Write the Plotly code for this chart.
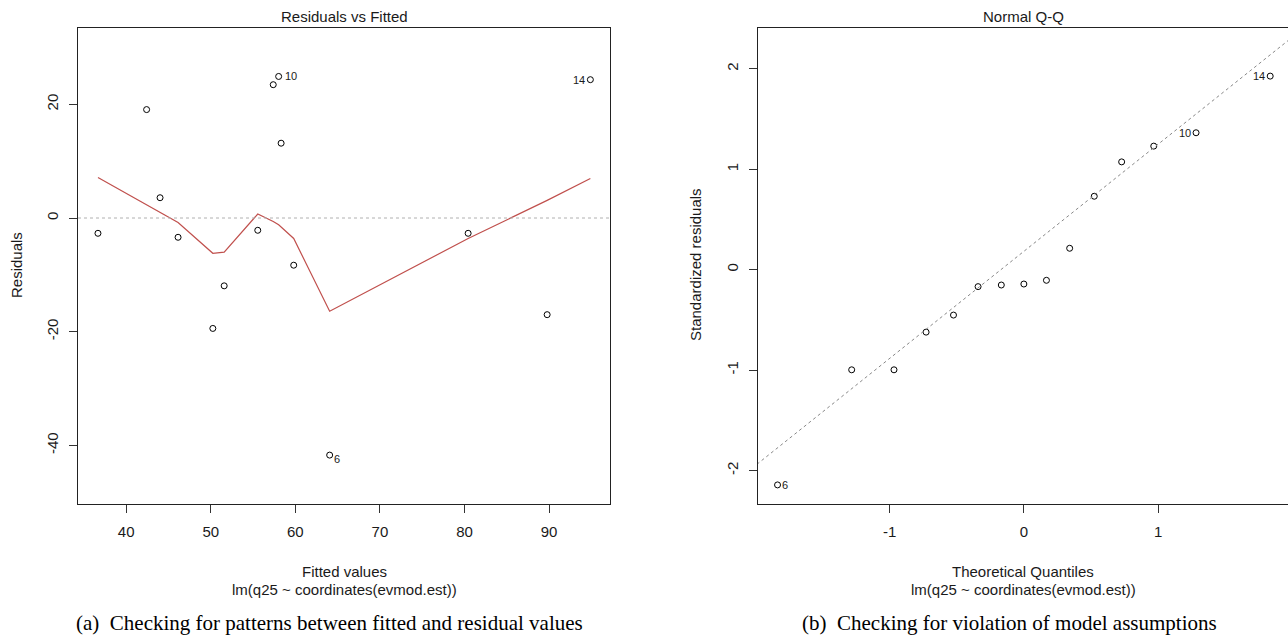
import numpy as np
import plotly.graph_objects as go

# ---------------- data ----------------
fitted = [36.67, 42.42, 44.01, 46.14, 50.25, 51.59, 55.56, 57.39, 58.03, 58.32,
          59.81, 64.06, 80.43, 89.77, 94.88]
residuals = [-2.69, 19.07, 3.57, -3.39, -19.42, -11.93, -2.16, 23.45, 24.90, 13.16,
             -8.30, -41.70, -2.69, -17.00, 24.33]
obs_id = [None, None, None, None, None, None, None, None, "10", None,
          None, "6", None, None, "14"]
smooth_fit = [7.13, 2.40, 1.00, -0.80, -6.20, -6.00, 0.70, -0.60, -1.20, -1.60,
              -3.60, -16.40, -3.60, 3.10, 6.96]

theoretical_q = [-1.834, -1.282, -0.967, -0.728, -0.524, -0.341, -0.168, 0.0,
                 0.168, 0.341, 0.524, 0.728, 0.967, 1.282, 1.834]
std_resid = [-2.143, -0.997, -0.997, -0.622, -0.452, -0.169, -0.153, -0.143,
             -0.106, 0.213, 0.731, 1.073, 1.230, 1.363, 1.927]
qq_id = ["6", None, None, None, None, None, None, None,
         None, None, None, None, None, "10", "14"]

xticks_left = [40, 50, 60, 70, 80, 90]
yticks_left = [-40, -20, 0, 20]
xticks_right = [-1, 0, 1]
yticks_right = [-2, -1, 0, 1, 2]

# ---------------- layout geometry ----------------
W, H = 1288, 637
def px(x):
    return x / W
def py(y):
    return 1 - y / H

FONT = "Liberation Sans, Arial, sans-serif"
SERIF = "Liberation Serif, Times New Roman, serif"
TXT = "#1a1a1a"

def labels(vals):
    return [str(v) for v in vals]  # ASCII hyphen minus, as in R

fig = go.Figure()

# left panel: residuals vs fitted
fig.add_trace(go.Scatter(
    x=fitted, y=residuals, mode="markers",
    marker=dict(symbol="circle-open", size=6, color="black", line=dict(width=1)),
    xaxis="x", yaxis="y", showlegend=False, hoverinfo="skip"))
order = np.argsort(fitted)
fig.add_trace(go.Scatter(
    x=np.array(fitted)[order], y=np.array(smooth_fit)[order], mode="lines",
    line=dict(color="#C0504D", width=1.2),
    xaxis="x", yaxis="y", showlegend=False, hoverinfo="skip"))

# right panel: normal Q-Q
fig.add_trace(go.Scatter(
    x=theoretical_q, y=std_resid, mode="markers",
    marker=dict(symbol="circle-open", size=6, color="black", line=dict(width=1)),
    xaxis="x2", yaxis="y2", showlegend=False, hoverinfo="skip"))

# qqline through the quartiles (R qqline)
yq = np.quantile(np.array(std_resid), [0.25, 0.75])
zq = np.array([-0.6744898, 0.6744898])
slope = (yq[1] - yq[0]) / (zq[1] - zq[0])
intercept = yq[0] - slope * zq[0]
xl = np.array([-3.0, 3.0])
fig.add_trace(go.Scatter(
    x=xl, y=intercept + slope * xl, mode="lines",
    line=dict(color="#888888", width=1, dash="dot"),
    xaxis="x2", yaxis="y2", showlegend=False, hoverinfo="skip"))

# zero reference line on the left panel
fig.add_shape(type="line", xref="x domain", yref="y", x0=0, x1=1, y0=0, y1=0,
              line=dict(color="#b0b0b0", width=1, dash="dot"))

axis_common = dict(showgrid=False, zeroline=False, ticks="outside", ticklen=8,
                   tickwidth=1, tickcolor="#333333", linecolor="#222222",
                   linewidth=1, showline=True,
                   tickfont=dict(family=FONT, size=15, color=TXT))

fig.update_layout(
    width=W, height=H, autosize=False,
    margin=dict(l=0, r=0, t=0, b=0),
    paper_bgcolor="white", plot_bgcolor="white",
    xaxis=dict(domain=[px(78), px(610)], range=[34.31, 97.2], anchor="y",
               tickvals=xticks_left, ticktext=labels(xticks_left), mirror=True,
               ticklabelstandoff=6, **axis_common),
    yaxis=dict(domain=[py(504), py(28)], range=[-50.3, 33.42], anchor="x",
               tickvals=yticks_left, ticktext=labels(yticks_left), tickangle=-90,
               mirror=True, ticklabelstandoff=5, **axis_common),
    xaxis2=dict(domain=[px(757.8), 1.0], range=[-1.981, 1.9665], anchor="y2",
                tickvals=xticks_right, ticktext=labels(xticks_right), mirror=True,
                ticklabelstandoff=6, **axis_common),
    yaxis2=dict(domain=[py(504), py(28)], range=[-2.333, 2.406], anchor="x2",
                tickvals=yticks_right, ticktext=labels(yticks_right), tickangle=-90,
                mirror=False, ticklabelstandoff=5, **axis_common),
)

ann = []
def text(x, y, s, size=15, family=FONT, angle=0, color=TXT):
    ann.append(dict(x=px(x), y=py(y), xref="paper", yref="paper", text=s,
                    showarrow=False, xanchor="center", yanchor="middle",
                    textangle=angle, font=dict(family=family, size=size, color=color)))

# titles and axis titles
text(344, 17, "Residuals vs Fitted")
text(344, 571, "Fitted values")
text(344, 589, "lm(q25 ~ coordinates(evmod.est))")
text(17, 265, "Residuals", angle=-90)
text(1023, 17, "Normal Q-Q")
text(1023, 571, "Theoretical Quantiles")
text(1023, 589, "lm(q25 ~ coordinates(evmod.est))")
text(696, 265, "Standardized residuals", angle=-90)
# captions
text(329, 623, "(a)  Checking for patterns between fitted and residual values",
     size=21, family=SERIF, color="black")
text(1009, 623, "(b)  Checking for violation of model assumptions",
     size=21, family=SERIF, color="black")

# point labels (left panel)
for xv, yv, lab in zip(fitted, residuals, obs_id):
    if lab is None:
        continue
    if lab == "14":
        xs, ys = -11, 0
    elif lab == "6":
        xs, ys = 7, -4
    else:
        xs, ys = 12, 0
    ann.append(dict(x=xv, y=yv, xref="x", yref="y", text=lab, showarrow=False,
                    xshift=xs, yshift=ys, xanchor="center", yanchor="middle",
                    font=dict(family=FONT, size=11, color=TXT)))
# point labels (right panel)
for xv, yv, lab in zip(theoretical_q, std_resid, qq_id):
    if lab is None:
        continue
    xs = 7 if lab == "6" else -11
    ann.append(dict(x=xv, y=yv, xref="x2", yref="y2", text=lab, showarrow=False,
                    xshift=xs, yshift=0, xanchor="center", yanchor="middle",
                    font=dict(family=FONT, size=11, color=TXT)))

fig.update_layout(annotations=ann)

fig.write_html("out.html", include_plotlyjs=True,
               config={"displayModeBar": False},
               post_script="document.body.style.margin='0';document.body.style.overflow='hidden';")
